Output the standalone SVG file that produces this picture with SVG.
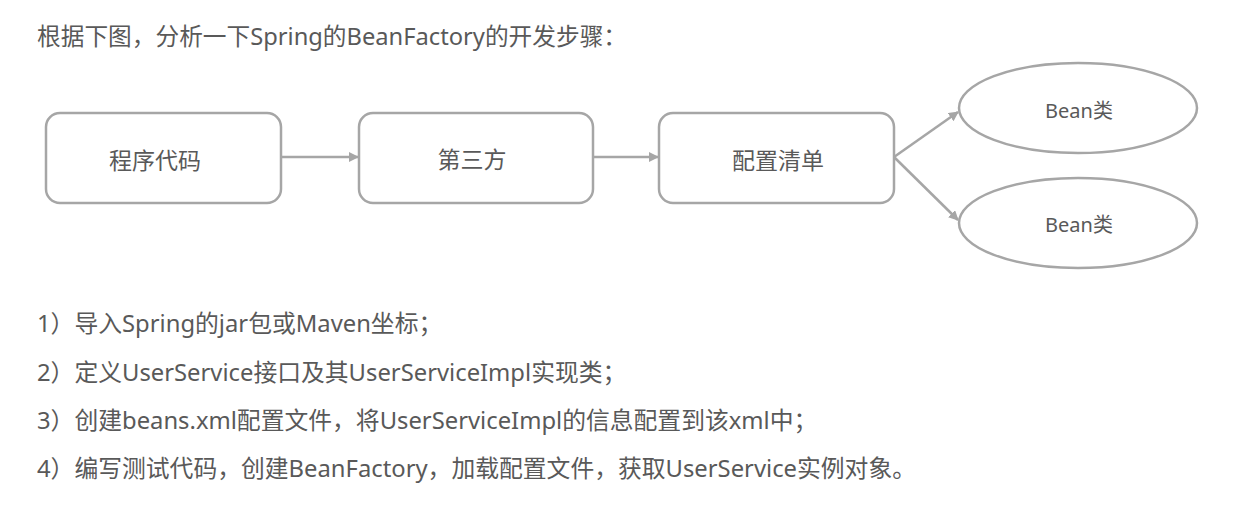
<svg xmlns="http://www.w3.org/2000/svg" width="1237" height="511" viewBox="0 0 1237 511">
  <style>
    .t { font-family: "Noto Sans", "Noto Sans CJK SC", sans-serif; fill: #595959; }
    .title { font-size: 23.7px; }
    .step { font-size: 23.8px; }
    .lbl { font-size: 23px; text-anchor: middle; }
    .bean { font-size: 20px; text-anchor: middle; }
    .box { fill: #ffffff; stroke: #a6a6a6; stroke-width: 2.5; }
    .conn { fill: none; stroke: #a6a6a6; stroke-width: 2.5; }
  </style>
  <defs>
    <marker id="arr" viewBox="0 0 10 10" refX="9" refY="5" markerWidth="4" markerHeight="4" orient="auto" markerUnits="strokeWidth">
      <path d="M0,0 L10,5 L0,10 z" fill="#a6a6a6"/>
    </marker>
  </defs>
  <rect width="1237" height="511" fill="#ffffff"/>

  <text class="t title" x="37" y="45">根据下图，分析一下Spring的BeanFactory的开发步骤：</text>

  <g id="connectors">
    <line class="conn" x1="282" y1="157" x2="358" y2="157" marker-end="url(#arr)"/>
    <line class="conn" x1="594" y1="157" x2="658" y2="157" marker-end="url(#arr)"/>
    <line class="conn" x1="894" y1="157" x2="958" y2="112" marker-end="url(#arr)"/>
    <line class="conn" x1="894" y1="157" x2="958" y2="220" marker-end="url(#arr)"/>
  </g>

  <g id="node-code">
    <rect class="box" x="46" y="113" width="235" height="90" rx="14"/>
    <text class="t lbl" x="155" y="169">程序代码</text>
  </g>
  <g id="node-third">
    <rect class="box" x="359" y="113" width="234" height="90" rx="14"/>
    <text class="t lbl" x="472" y="168">第三方</text>
  </g>
  <g id="node-config">
    <rect class="box" x="659" y="113" width="235" height="90" rx="14"/>
    <text class="t lbl" x="778" y="169">配置清单</text>
  </g>
  <g id="node-bean1">
    <ellipse class="box" cx="1078" cy="108" rx="119" ry="45"/>
    <text class="t bean" x="1079" y="118">Bean类</text>
  </g>
  <g id="node-bean2">
    <ellipse class="box" cx="1078" cy="223" rx="119" ry="45"/>
    <text class="t bean" x="1079" y="232">Bean类</text>
  </g>

  <text class="t step" x="37" y="332">1）导入Spring的jar包或Maven坐标；</text>
  <text class="t step" x="37" y="381">2）定义UserService接口及其UserServiceImpl实现类；</text>
  <text class="t step" x="37" y="429">3）创建beans.xml配置文件，将UserServiceImpl的信息配置到该xml中；</text>
  <text class="t step" x="37" y="477">4）编写测试代码，创建BeanFactory，加载配置文件，获取UserService实例对象。</text>
</svg>
